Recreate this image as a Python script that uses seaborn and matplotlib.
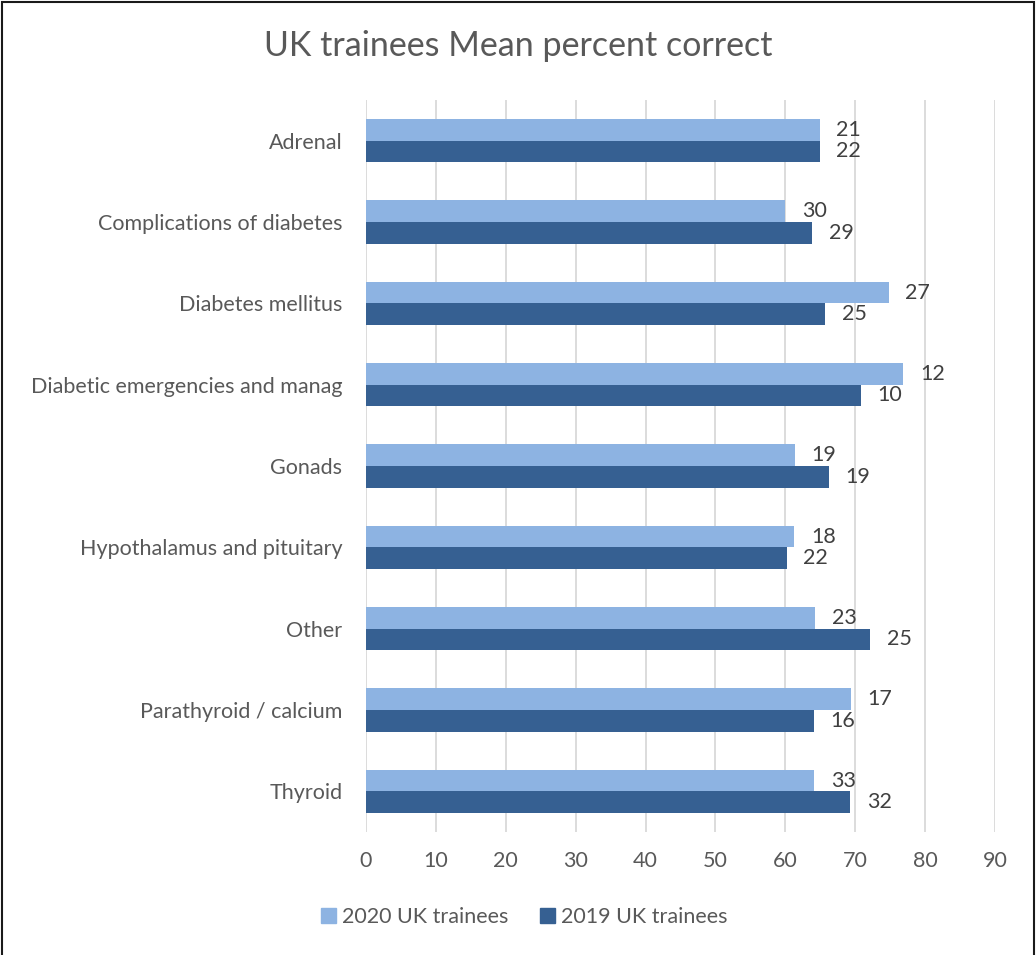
import pandas as pd
import matplotlib.pyplot as plt
import seaborn as sns
from matplotlib.patches import Rectangle

# Datos
categorias = ['Adrenal', 'Complications of diabetes', 'Diabetes mellitus',
              'Diabetic emergencies and manag', 'Gonads', 'Hypothalamus and pituitary',
              'Other', 'Parathyroid / calcium', 'Thyroid']
series = ['2020 UK trainees', '2019 UK trainees']
media_2020 = [64.9, 60.0, 74.8, 76.9, 61.4, 61.3, 64.3, 69.4, 64.1]
media_2019 = [64.9, 63.8, 65.7, 70.8, 66.2, 60.2, 72.1, 64.1, 69.3]
n_2020 = [21, 30, 27, 12, 19, 18, 23, 17, 33]
n_2019 = [22, 29, 25, 10, 19, 22, 25, 16, 32]

colores = ['#8DB3E2', '#366092']
gris = '#595959'

df = pd.DataFrame({
    'categoria': categorias * 2,
    'serie': [series[0]] * len(categorias) + [series[1]] * len(categorias),
    'media': media_2020 + media_2019,
})

sns.set_theme(style='white')
plt.rcParams['font.family'] = ['Lato', 'DejaVu Sans']

fig = plt.figure(figsize=(10.36, 9.55), dpi=100)
ax = fig.add_axes([0.3533, 0.1288, 0.6071, 0.7665])

sns.barplot(data=df, y='categoria', x='media', hue='serie', order=categorias,
            hue_order=series, palette=colores, width=0.53, orient='h',
            edgecolor='none', saturation=1, ax=ax)

ax.set_xlim(0, 90)
ax.set_xticks(range(0, 91, 10))
ax.xaxis.grid(True, color='#D9D9D9', linewidth=1.3)
ax.set_axisbelow(True)
for s in ax.spines.values():
    s.set_visible(False)
ax.set_xlabel('')
ax.set_ylabel('')
ax.tick_params(axis='x', colors=gris, labelsize=15.5, length=0, pad=14)
ax.tick_params(axis='y', colors=gris, labelsize=15.5, length=0, pad=17)

# Etiquetas con el número de participantes
for cont, etiquetas in zip(ax.containers, [n_2020, n_2019]):
    ax.bar_label(cont, labels=[str(v) for v in etiquetas], padding=12,
                 fontsize=15.5, color='#404040')

ax.legend_.remove()
handles = [Rectangle((0, 0), 1, 1, color=c) for c in colores]
fig.legend(handles, series, loc='center', bbox_to_anchor=(0.506, 0.04), ncol=2,
           frameon=False, fontsize=15.5, handlelength=0.7, handleheight=0.7,
           columnspacing=1.45, handletextpad=0.3, labelcolor=gris)

fig.text(0.5, 0.952, 'UK trainees Mean percent correct', ha='center', va='center',
         fontsize=24.5, color=gris)

# Marco alrededor de la figura
fig.patches.append(Rectangle((0.002, -0.01), 0.996, 1.008, transform=fig.transFigure,
                             fill=False, edgecolor='#1a1a1a', linewidth=1.5))

plt.savefig('out.png', dpi=100)
